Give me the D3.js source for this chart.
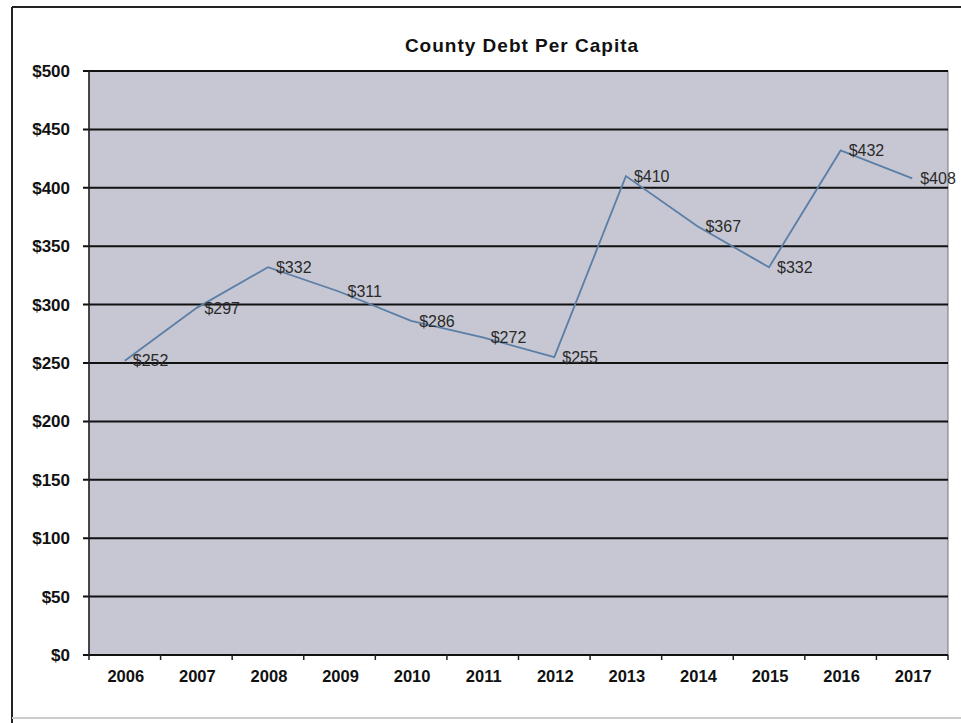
<!DOCTYPE html>
<html><head><meta charset="utf-8">
<script src="https://cdn.jsdelivr.net/npm/d3@7"></script>
<style>body{margin:0;background:#fff}svg{display:block}</style>
</head><body>
<svg id="c" width="961" height="723"></svg>
<script>
const years = ["2006","2007","2008","2009","2010","2011","2012","2013","2014","2015","2016","2017"];
const debt = [252,297,332,311,286,272,255,410,367,332,432,408];
const yTicks = [0,50,100,150,200,250,300,350,400,450,500];
const title = "County Debt Per Capita";

const svg = d3.select("#c");
const m = {l:89, r:13, t:71, b:68};
const W = 961, H = 723;
const x = d3.scaleBand().domain(years).range([m.l, W - m.r]);
const y = d3.scaleLinear().domain([0,500]).range([H - m.b, m.t]);
const font = "Arial, 'Liberation Sans', sans-serif";

// outer frame
svg.append("line").attr("x1",12).attr("x2",12).attr("y1",7).attr("y2",723).attr("stroke","#222").attr("stroke-width",2);
svg.append("line").attr("x1",12).attr("x2",961).attr("y1",7).attr("y2",7).attr("stroke","#222").attr("stroke-width",2);
svg.append("line").attr("x1",12).attr("x2",961).attr("y1",718).attr("y2",718).attr("stroke","#ccc").attr("stroke-width",2);

// plot area
svg.append("rect").attr("x",m.l).attr("y",m.t).attr("width",W-m.r-m.l).attr("height",H-m.b-m.t)
  .attr("fill","#c6c7d2").attr("stroke","#777").attr("stroke-width",1);

// gridlines
svg.append("g").selectAll("line").data(yTicks).join("line")
  .attr("x1",m.l-6).attr("x2",W-m.r).attr("y1",d=>y(d)).attr("y2",d=>y(d))
  .attr("stroke","#111").attr("stroke-width",2);

// left axis line
svg.append("line").attr("x1",m.l).attr("x2",m.l).attr("y1",m.t).attr("y2",y(0)).attr("stroke","#222").attr("stroke-width",1.5);

// y labels
svg.append("g").selectAll("text").data(yTicks).join("text")
  .attr("x",70).attr("y",d=>y(d)).attr("dy","0.35em").attr("text-anchor","end")
  .attr("font-family",font).attr("font-weight","bold").attr("font-size",17).attr("fill","#111")
  .text(d=>"$"+d);

// x axis
const xa = d3.axisBottom(x).tickSize(0).tickPadding(0);
const gx = svg.append("g").attr("transform",`translate(0,${y(0)})`).call(xa);
gx.select(".domain").remove();
gx.selectAll("text").attr("font-family",font).attr("font-weight","bold").attr("font-size",16.5).attr("fill","#111")
  .attr("dx","1").attr("dy","0").attr("y",27);
// category boundary ticks
const edges = years.map(d=>x(d)).concat([x(years[years.length-1])+x.bandwidth()]);
svg.append("g").selectAll("line").data(edges).join("line")
  .attr("x1",d=>d).attr("x2",d=>d)
  .attr("y1",y(0)).attr("y2",y(0)+5).attr("stroke","#222").attr("stroke-width",1.5);

// line
const cx = d => x(d) + x.bandwidth()/2;
const line = d3.line().x((d,i)=>cx(years[i])).y(d=>y(d));
svg.append("path").datum(debt).attr("d",line).attr("fill","none").attr("stroke","#5b7ea6").attr("stroke-width",1.8);

// data labels
svg.append("g").selectAll("text").data(debt).join("text")
  .attr("x",(d,i)=>cx(years[i])+8).attr("y",d=>y(d)).attr("dy","0.35em")
  .attr("font-family",font).attr("font-size",16).attr("fill","#2a2a2a")
  .text(d=>"$"+d);

// title
svg.append("text").attr("x",522).attr("y",52).attr("text-anchor","middle")
  .attr("font-family",font).attr("font-weight","bold").attr("font-size",19).attr("letter-spacing",1)
  .attr("fill","#111").text(title);
</script>
</body></html>
